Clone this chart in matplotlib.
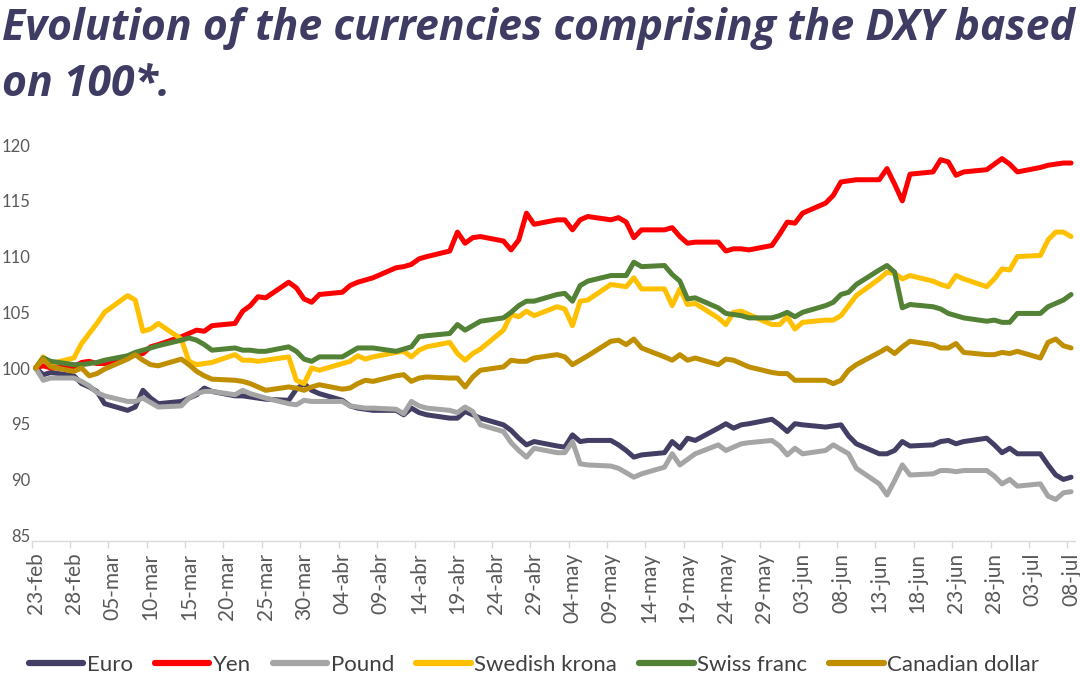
import matplotlib
matplotlib.use('Agg')
import matplotlib.pyplot as plt
import matplotlib.dates as mdates
import pandas as pd

# ---------------- data ----------------
dates = pd.bdate_range('2022-02-23', '2022-07-08')

euro = [100.0, 99.4, 99.6,
        99.3, 98.6, 98.3, 97.9, 96.8,
        96.2, 96.5, 98.0, 97.3, 96.8,
        97.0, 97.3, 97.6, 98.2, 97.9,
        97.5, 97.5, 97.4, 97.3, 97.2,
        97.1, 98.1, 98.6, 98.0, 97.7,
        97.1, 96.6, 96.4, 96.3, 96.2,
        96.2, 95.8, 96.4, 96.0, 95.8,
        95.5, 95.5, 96.1, 95.8, 95.5,
        94.9, 94.4, 93.7, 93.1, 93.4,
        93.0, 92.9, 94.0, 93.4, 93.5,
        93.5, 93.1, 92.6, 92.0, 92.2,
        92.4, 93.4, 92.8, 93.7, 93.5,
        94.6, 95.0, 94.6, 94.9, 95.0,
        95.4, 94.9, 94.3, 95.0, 94.9,
        94.7, 94.8, 94.9, 93.9, 93.2,
        92.3, 92.3, 92.6, 93.4, 93.0,
        93.1, 93.4, 93.5, 93.2, 93.4,
        93.7, 93.1, 92.4, 92.8, 92.3,
        92.3, 91.3, 90.4, 90.0, 90.2]

yen = [100.0, 100.2, 100.0,
       100.1, 100.5, 100.6, 100.4, 100.4,
       100.9, 101.2, 101.3, 101.9, 102.1,
       102.8, 103.1, 103.4, 103.3, 103.8,
       104.0, 105.1, 105.6, 106.4, 106.3,
       107.7, 107.2, 106.2, 105.9, 106.6,
       106.8, 107.4, 107.7, 107.9, 108.1,
       109.0, 109.1, 109.3, 109.8, 110.0,
       110.5, 112.2, 111.2, 111.7, 111.8,
       111.4, 110.6, 111.5, 113.9, 112.9,
       113.3, 113.3, 112.4, 113.3, 113.6,
       113.3, 113.5, 113.1, 111.7, 112.4,
       112.4, 112.6, 111.8, 111.2, 111.3,
       111.3, 110.5, 110.7, 110.7, 110.6,
       111.0, 112.0, 113.1, 113.0, 113.9,
       114.8, 115.5, 116.7, 116.8, 116.9,
       116.9, 117.9, 116.5, 115.0, 117.4,
       117.6, 118.7, 118.5, 117.3, 117.6,
       117.8, 118.3, 118.8, 118.3, 117.6,
       118.0, 118.2, 118.3, 118.4, 118.4]

pound = [100.0, 98.9, 99.1,
         99.1, 98.8, 98.4, 97.8, 97.5,
         97.0, 97.0, 97.3, 96.9, 96.5,
         96.6, 97.3, 97.7, 97.9, 97.9,
         97.6, 98.0, 97.7, 97.5, 97.3,
         96.8, 96.7, 97.1, 97.0, 97.0,
         97.0, 96.6, 96.5, 96.4, 96.4,
         96.3, 95.9, 97.0, 96.6, 96.4,
         96.2, 96.0, 96.5, 96.1, 94.9,
         94.3, 93.3, 92.6, 92.0, 92.8,
         92.4, 92.4, 93.4, 91.4, 91.3,
         91.2, 91.0, 90.6, 90.2, 90.5,
         91.1, 92.3, 91.3, 91.8, 92.3,
         93.1, 92.6, 92.9, 93.2, 93.3,
         93.5, 93.0, 92.2, 92.8, 92.3,
         92.6, 93.1, 92.7, 92.3, 91.0,
         89.6, 88.6, 89.9, 91.3, 90.4,
         90.5, 90.8, 90.8, 90.7, 90.8,
         90.8, 90.3, 89.6, 90.0, 89.4,
         89.6, 88.5, 88.2, 88.8, 88.9]

swedish_krona = [100.0, 101.0, 100.4,
                 100.9, 102.2, 103.1, 104.0, 105.0,
                 106.5, 106.1, 103.3, 103.5, 104.0,
                 102.6, 100.6, 100.3, 100.4, 100.5,
                 101.2, 100.7, 100.7, 100.6, 100.7,
                 101.0, 98.9, 98.6, 100.0, 99.8,
                 100.4, 100.6, 101.1, 100.8, 101.0,
                 101.4, 101.5, 101.0, 101.6, 101.9,
                 102.3, 101.3, 100.7, 101.3, 101.7,
                 103.4, 104.8, 104.6, 105.1, 104.7,
                 105.5, 105.3, 103.8, 106.0, 106.1,
                 107.5, 107.4, 107.3, 108.1, 107.1,
                 107.1, 105.6, 107.1, 105.7, 105.8,
                 104.5, 103.9, 105.0, 105.1, 104.8,
                 103.9, 103.9, 104.6, 103.5, 104.1,
                 104.3, 104.3, 104.7, 105.6, 106.5,
                 108.0, 108.6, 108.5, 108.0, 108.3,
                 107.8, 107.5, 107.3, 108.3, 108.0,
                 107.3, 108.0, 108.9, 108.8, 110.0,
                 110.1, 111.5, 112.2, 112.2, 111.8]

swiss_franc = [100.0, 100.9, 100.6,
               100.3, 100.3, 100.4, 100.5, 100.7,
               101.1, 101.4, 101.6, 101.8, 102.0,
               102.5, 102.7, 102.5, 102.1, 101.6,
               101.8, 101.6, 101.6, 101.5, 101.5,
               101.9, 101.5, 100.8, 100.6, 101.0,
               101.0, 101.4, 101.8, 101.8, 101.8,
               101.5, 101.7, 101.9, 102.8, 102.9,
               103.1, 103.9, 103.4, 103.8, 104.2,
               104.5, 105.0, 105.6, 106.0, 106.0,
               106.6, 106.7, 106.0, 107.4, 107.8,
               108.3, 108.3, 108.3, 109.5, 109.1,
               109.2, 108.4, 107.8, 106.2, 106.3,
               105.4, 104.9, 104.8, 104.7, 104.5,
               104.5, 104.7, 105.0, 104.6, 105.0,
               105.6, 105.9, 106.6, 106.8, 107.5,
               108.8, 109.2, 108.6, 105.4, 105.7,
               105.5, 105.3, 104.9, 104.7, 104.5,
               104.2, 104.3, 104.1, 104.1, 104.9,
               104.9, 105.5, 105.8, 106.1, 106.6]

canadian_dollar = [100.0, 100.8, 100.1,
                   99.7, 100.0, 99.3, 99.5, 99.9,
                   100.8, 101.2, 100.7, 100.3, 100.2,
                   100.8, 100.3, 99.7, 99.3, 99.0,
                   98.9, 98.8, 98.6, 98.3, 98.0,
                   98.3, 98.2, 98.0, 98.3, 98.5,
                   98.1, 98.2, 98.6, 98.9, 98.8,
                   99.3, 99.4, 98.8, 99.1, 99.2,
                   99.1, 99.1, 98.3, 99.2, 99.8,
                   100.1, 100.7, 100.6, 100.6, 100.9,
                   101.2, 101.0, 100.3, 100.7, 101.1,
                   102.4, 102.5, 102.1, 102.6, 101.8,
                   101.0, 100.7, 101.2, 100.7, 100.9,
                   100.3, 100.8, 100.7, 100.4, 100.1,
                   99.6, 99.5, 99.5, 98.9, 98.9,
                   98.9, 98.6, 98.9, 99.8, 100.3,
                   101.4, 101.8, 101.3, 101.9, 102.4,
                   102.1, 101.8, 101.8, 102.2, 101.4,
                   101.2, 101.2, 101.4, 101.3, 101.5,
                   100.9, 102.3, 102.6, 102.0, 101.8]

series_names = ['Euro', 'Yen', 'Pound', 'Swedish krona', 'Swiss franc', 'Canadian dollar']
series_values = [euro, yen, pound, swedish_krona, swiss_franc, canadian_dollar]
series_colors = ['#433F64', '#FF0000', '#A5A5A5', '#FFC000', '#538135', '#BF8F00']

tick_labels = ['23-feb', '28-feb', '05-mar', '10-mar', '15-mar', '20-mar', '25-mar',
               '30-mar', '04-abr', '09-abr', '14-abr', '19-abr', '24-abr', '29-abr',
               '04-may', '09-may', '14-may', '19-may', '24-may', '29-may', '03-jun',
               '08-jun', '13-jun', '18-jun', '23-jun', '28-jun', '03-jul', '08-jul']
tick_dates = pd.date_range('2022-02-23', '2022-07-08', freq='5D')
y_ticks = [85, 90, 95, 100, 105, 110, 115, 120]
title_lines = ['Evolution of the currencies comprising the DXY based', 'on 100*.']

# ---------------- figure ----------------
plt.rcParams['font.family'] = ['Lato', 'DejaVu Sans']
W, H = 1080, 675
fig = plt.figure(figsize=(W / 100, H / 100), dpi=100)

px_left, px_right = 31.7, 1074.9
px_top, px_bottom = 145.2, 540.7
ax = fig.add_axes([px_left / W, (H - px_bottom) / H,
                   (px_right - px_left) / W, (px_bottom - px_top) / H])

handles = []
for name, vals, col in zip(series_names, series_values, series_colors):
    ln, = ax.plot(dates, vals, color=col, lw=3.6, label=name,
                  solid_joinstyle='round', solid_capstyle='round', clip_on=False)
    handles.append(ln)

x0 = mdates.date2num(pd.Timestamp('2022-02-23')) - 0.5
x1 = mdates.date2num(pd.Timestamp('2022-07-08')) + 0.5
ax.set_xlim(x0, x1)
ax.set_ylim(84.5, 120)

for s in ['top', 'right', 'left']:
    ax.spines[s].set_visible(False)
ax.spines['bottom'].set_color('#D9D9D9')
ax.spines['bottom'].set_linewidth(1.0)

ax.set_xticks(mdates.date2num(tick_dates))
ax.set_xticklabels(tick_labels, rotation=90)
ax.set_xticks(mdates.date2num(tick_dates) - 0.5, minor=True)
ax.tick_params(axis='x', which='major', length=0, pad=8.5, labelsize=15, labelcolor='#595959')
ax.tick_params(axis='x', which='minor', length=5, width=1, color='#D9D9D9', direction='out')

ax.set_yticks(y_ticks)
ax.set_yticklabels([str(v) for v in y_ticks])
ax.tick_params(axis='y', length=0, pad=1.0, labelsize=12, labelcolor='#595959')

leg = fig.legend(handles=handles, labels=series_names, ncol=6, loc='center',
                 bbox_to_anchor=(534 / W, (H - 665) / H), frameon=False,
                 fontsize=16, handlelength=2.45, handletextpad=0.15,
                 columnspacing=1.0, labelcolor='#404040', borderaxespad=0)
for lh in leg.get_lines():
    lh.set_linewidth(4.5)
    lh.set_solid_capstyle('round')

# ---------------- title ----------------
title_kw = dict(fontfamily=['Open Sans', 'DejaVu Sans'], fontweight='bold',
                fontstyle='italic', color='#3F3C64')
renderer = fig.canvas.get_renderer()


def text_w(s, size):
    t = fig.text(0, 0, s, fontsize=size, **title_kw)
    w = t.get_window_extent(renderer).width
    t.remove()
    return w


base = 28
fs = base * 1072 / text_w(title_lines[0], base)
fig.text(2 / W, (H - 40) / H, title_lines[0], fontsize=fs,
         va='baseline', ha='left', **title_kw)
fig.text(2 / W, (H - 96) / H, title_lines[1], fontsize=fs,
         va='baseline', ha='left', **title_kw)

fig.savefig('out.png', dpi=100)
